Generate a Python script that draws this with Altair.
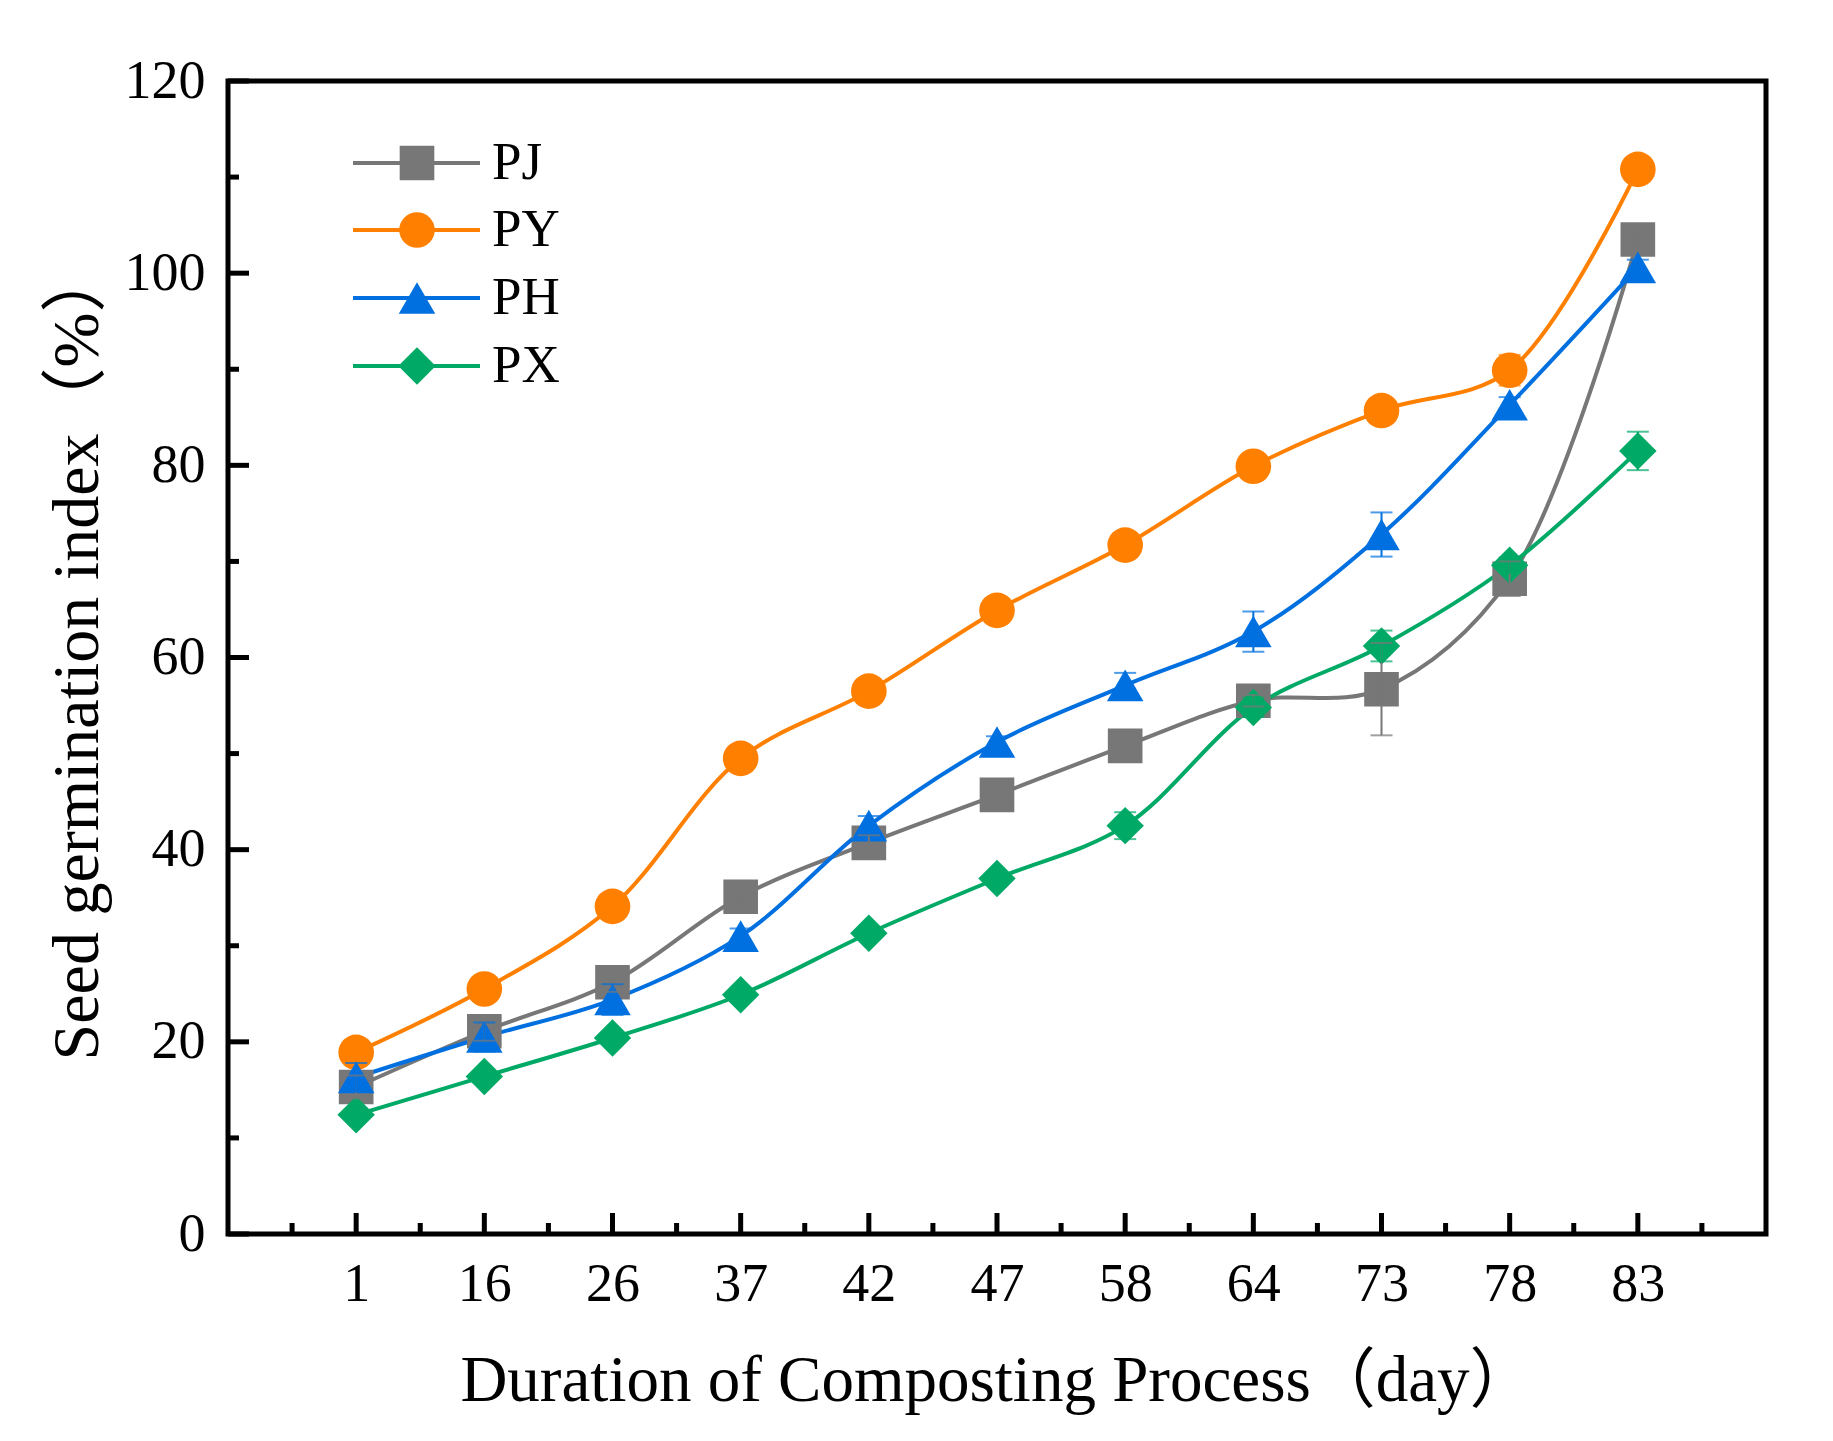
import altair as alt
import pandas as pd

# ---- data ----
DAYS = [1, 16, 26, 37, 42, 47, 58, 64, 73, 78, 83]
SERIES = ["PJ", "PY", "PH", "PX"]
PJ = [15.3, 21.1, 26.2, 35.1, 40.7, 45.7, 50.8, 55.5, 56.7, 68.2, 103.5]
PY = [18.9, 25.5, 34.1, 49.5, 56.5, 64.9, 71.7, 79.9, 85.7, 89.9, 110.8]
PH = [16.3, 20.5, 24.4, 31.0, 42.5, 51.2, 57.1, 62.7, 72.8, 86.3, 100.6]
PX = [12.4, 16.4, 20.4, 24.9, 31.3, 37.0, 42.5, 54.8, 61.2, 69.6, 81.5]
PJ_ERR = [1.2, 1.0, 1.0, 0.6, 0.8, 0.6, 0.6, 0.6, 4.8, 1.8, 0.6]
PY_ERR = [0.6, 0.6, 0.8, 0.6, 0.6, 0.5, 0.6, 0.6, 0.6, 1.6, 0.6]
PH_ERR = [1.5, 1.5, 1.6, 0.8, 1.0, 0.6, 1.3, 2.1, 2.3, 0.8, 0.8]
PX_ERR = [0.5, 0.5, 0.5, 0.5, 0.5, 0.5, 1.4, 1.0, 1.6, 0.8, 2.0]
Y_MAJOR = [0, 20, 40, 60, 80, 100, 120]
Y_MINOR = [10, 30, 50, 70, 90, 110]

COLORS = ["#777777", "#FF8000", "#0070E0", "#00AA66"]
SHAPES = ["square", "circle", "triangle-up", "diamond"]
SIZES = [1200, 1400, 1900, 2100]
LEGEND_ROWS = [82, 149, 217, 285]   # pixel rows of the in-plot legend

FONT = "Liberation Serif, Noto Sans CJK SC"
W, H = 1538, 1153

vals = {"PJ": PJ, "PY": PY, "PH": PH, "PX": PX}
errs = {"PJ": PJ_ERR, "PY": PY_ERR, "PH": PH_ERR, "PX": PX_ERR}
rows = []
for s in SERIES:
    for i, d in enumerate(DAYS):
        v = vals[s][i]
        e = errs[s][i]
        rows.append({"series": s, "idx": i + 1, "day": d, "value": v,
                     "lo": v - e, "hi": v + e})
df = pd.DataFrame(rows)

x_major = pd.DataFrame({"t": list(range(1, len(DAYS) + 1))})
x_minor = pd.DataFrame({"t": [i + 0.5 for i in range(0, len(DAYS) + 1)]})
y_major = pd.DataFrame({"v": Y_MAJOR})
y_minor = pd.DataFrame({"v": Y_MINOR})
leg = pd.DataFrame({"series": SERIES})

xscale = alt.Scale(domain=[0, len(DAYS) + 1], nice=False, zero=False)
yscale = alt.Scale(domain=[0, 120], nice=False, zero=False)
cscale = alt.Scale(domain=SERIES, range=COLORS)
sscale = alt.Scale(domain=SERIES, range=SHAPES)
zscale = alt.Scale(domain=SERIES, range=SIZES)

label_expr = "[" + ",".join("'%d'" % d for d in DAYS) + "][datum.value - 1]"

x_axis = alt.Axis(values=list(range(1, len(DAYS) + 1)), labelExpr=label_expr,
                  ticks=False, tickSize=0, domain=False, grid=False,
                  labelFont=FONT, labelFontSize=54, labelColor="black",
                  labelPadding=23, labelBaseline="top",
                  title="Duration of Composting Process（day）",
                  titleFont=FONT, titleFontSize=65, titleFontWeight="normal",
                  titleColor="black", titleY=166, titleBaseline="alphabetic")
y_axis = alt.Axis(values=Y_MAJOR, ticks=False, tickSize=0, domain=False, grid=False,
                  labelFont=FONT, labelFontSize=54, labelColor="black",
                  labelPadding=23,
                  title="Seed germination index（%）",
                  titleFont=FONT, titleFontSize=66, titleFontWeight="normal",
                  titleColor="black", titleX=-131, titleY=572,
                  titleBaseline="alphabetic")

base = alt.Chart(df)
X = alt.X("idx:Q", scale=xscale, axis=x_axis)
C = alt.Color("series:N", scale=cscale, legend=None)

lines = base.mark_line(strokeWidth=4, interpolate="catmull-rom").encode(
    x=X,
    y=alt.Y("value:Q", scale=yscale, axis=y_axis),
    color=C,
    detail="series:N",
)

points = base.mark_point(filled=True, opacity=1, strokeWidth=0).encode(
    x=X,
    y=alt.Y("value:Q", scale=yscale, axis=y_axis),
    color=C,
    shape=alt.Shape("series:N", scale=sscale, legend=None),
    size=alt.Size("series:N", scale=zscale, legend=None),
)

ebars = base.mark_rule(strokeWidth=2).encode(
    x=X,
    y=alt.Y("lo:Q", scale=yscale, axis=y_axis),
    y2="hi:Q",
    color=C,
)
cap_lo = base.mark_tick(orient="horizontal", thickness=2, size=22).encode(
    x=X, y=alt.Y("lo:Q", scale=yscale, axis=y_axis), color=C)
cap_hi = base.mark_tick(orient="horizontal", thickness=2, size=22).encode(
    x=X, y=alt.Y("hi:Q", scale=yscale, axis=y_axis), color=C)

# inward ticks
yt_major = alt.Chart(y_major).mark_rule(color="black", strokeWidth=5).encode(
    y=alt.Y("v:Q", scale=yscale, axis=y_axis), x=alt.value(0), x2=alt.value(21))
yt_minor = alt.Chart(y_minor).mark_rule(color="black", strokeWidth=5).encode(
    y=alt.Y("v:Q", scale=yscale, axis=y_axis), x=alt.value(0), x2=alt.value(11))
xt_major = alt.Chart(x_major).mark_rule(color="black", strokeWidth=5).encode(
    x=alt.X("t:Q", scale=xscale, axis=x_axis), y=alt.value(H), y2=alt.value(H - 21))
xt_minor = alt.Chart(x_minor).mark_rule(color="black", strokeWidth=5).encode(
    x=alt.X("t:Q", scale=xscale, axis=x_axis), y=alt.value(H), y2=alt.value(H - 11))

layers = [lines, points, ebars, cap_lo, cap_hi, yt_major, yt_minor, xt_major, xt_minor]

# legend drawn inside the plot, one row per series
for s, ypix in zip(SERIES, LEGEND_ROWS):
    lb = alt.Chart(leg).transform_filter(alt.datum.series == s)
    layers.append(lb.mark_rule(strokeWidth=4).encode(
        y=alt.value(ypix), x=alt.value(125), x2=alt.value(252), color=C))
    layers.append(lb.mark_point(filled=True, opacity=1, strokeWidth=0).encode(
        y=alt.value(ypix), x=alt.value(189), color=C,
        shape=alt.Shape("series:N", scale=sscale, legend=None),
        size=alt.Size("series:N", scale=zscale, legend=None)))
    layers.append(lb.mark_text(align="left", baseline="middle", font=FONT,
                               fontSize=53, color="black").encode(
        y=alt.value(ypix), x=alt.value(264), text="series:N"))

chart = alt.layer(*layers).properties(
    width=W, height=H,
    background="white",
    autosize=alt.AutoSizeParams(type="none"),
    padding={"left": 220, "top": 73, "right": 50, "bottom": 190},
).configure_view(stroke="black", strokeWidth=5)

chart.save("out.html", embed_options={"renderer": "svg", "actions": False})
